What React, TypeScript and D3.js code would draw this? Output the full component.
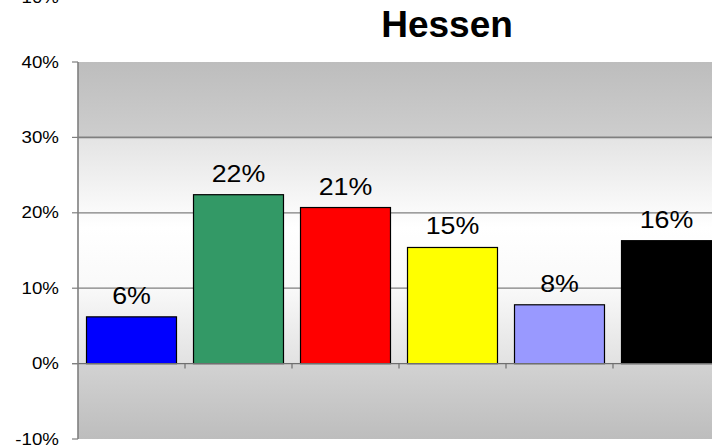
import React from "react";
import * as d3 from "d3";

const categories = ["Partei A", "Partei B", "Partei C", "Partei D", "Partei E", "Partei F"];
const values = [6.2, 22.4, 20.7, 15.4, 7.8, 16.3];
const valueLabels = ["6%", "22%", "21%", "15%", "8%", "16%"];
const colors = ["#0000ff", "#339966", "#ff0000", "#ffff00", "#9999ff", "#000000"];
const yTicks = [-10, 0, 10, 20, 30, 40];
const title = "Hessen";

const W = 712;
const H = 446;
const FONT = "'Liberation Sans', Arial, sans-serif";

export default function App() {
  const left = 78;
  const step = 107;
  const x = d3
    .scaleBand<string>()
    .domain(categories)
    .range([left, left + step * categories.length])
    .paddingInner(0.159)
    .paddingOuter(0.0795);
  const y = d3.scaleLinear().domain([-10, 40]).range([439, 62]);
  const top = y(40);
  const bottom = y(-10);
  const ph = bottom - top;
  const off = (v: number) => `${((y(v) - top) / ph) * 100}%`;

  return (
    <svg
      width={W}
      height={H}
      style={{ position: "absolute", left: 0, top: 0, background: "#fff" }}
      fontFamily={FONT}
    >
      <defs>
        <linearGradient id="bg" x1="0" y1="0" x2="0" y2="1">
          <stop offset="0%" stopColor="#bdbdbd" />
          <stop offset={off(30.2)} stopColor="#cdcdcd" />
          <stop offset={off(29.8)} stopColor="#e4e4e4" />
          <stop offset={off(18)} stopColor="#ffffff" />
          <stop offset={off(10)} stopColor="#f9f9f9" />
          <stop offset={off(0.2)} stopColor="#e2e2e2" />
          <stop offset={off(-0.2)} stopColor="#d2d2d2" />
          <stop offset="100%" stopColor="#bdbdbd" />
        </linearGradient>
      </defs>

      {/* cut-off label from above */}
      <text
        transform={`translate(59,-2.5) scale(1.17,1)`}
        fontSize={16}
        textAnchor="end"
        dominantBaseline="central"
      >
        -10%
      </text>

      <text x={447} y={37} fontSize={37} fontWeight="bold" textAnchor="middle">
        {title}
      </text>

      <rect x={left} y={top} width={W - left + 20} height={ph} fill="url(#bg)" />

      {/* gridlines */}
      {yTicks
        .filter((t) => t > 0 && t < 40)
        .map((t) => (
          <line
            key={"g" + t}
            x1={left}
            x2={W}
            y1={y(t)}
            y2={y(t)}
            stroke="#7f7f7f"
            strokeWidth={t === 30 ? 1.6 : 1.2}
          />
        ))}

      {/* bars */}
      {categories.map((c, i) => (
        <rect
          key={c}
          x={x(c)!}
          y={y(values[i])}
          width={x.bandwidth()}
          height={y(0) - y(values[i])}
          fill={colors[i]}
          stroke="#000"
          strokeWidth={1.2}
        />
      ))}

      {/* value labels */}
      {categories.map((c, i) => (
        <text
          key={"l" + c}
          transform={`translate(${x(c)! + x.bandwidth() / 2},${y(values[i]) - 13}) scale(1.14,1)`}
          fontSize={23.5}
          textAnchor="middle"
        >
          {valueLabels[i]}
        </text>
      ))}

      {/* x axis at 0 */}
      <line x1={left - 6} x2={W} y1={y(0)} y2={y(0)} stroke="#6f6f6f" strokeWidth={1.4} />
      {categories.slice(1).map((c) => (
        <line
          key={"t" + c}
          x1={left + categories.indexOf(c) * step}
          x2={left + categories.indexOf(c) * step}
          y1={y(0)}
          y2={y(0) + 5}
          stroke="#6f6f6f"
          strokeWidth={1.2}
        />
      ))}

      {/* y axis */}
      <line x1={left} x2={left} y1={top} y2={bottom} stroke="#7f7f7f" strokeWidth={1.6} />
      {yTicks.map((t) => (
        <g key={"y" + t}>
          <line x1={left - 6} x2={left} y1={y(t)} y2={y(t)} stroke="#7f7f7f" strokeWidth={1.2} />
          <text
            transform={`translate(59,${y(t)}) scale(1.17,1)`}
            fontSize={16}
            textAnchor="end"
            dominantBaseline="central"
          >
            {t}%
          </text>
        </g>
      ))}
    </svg>
  );
}
